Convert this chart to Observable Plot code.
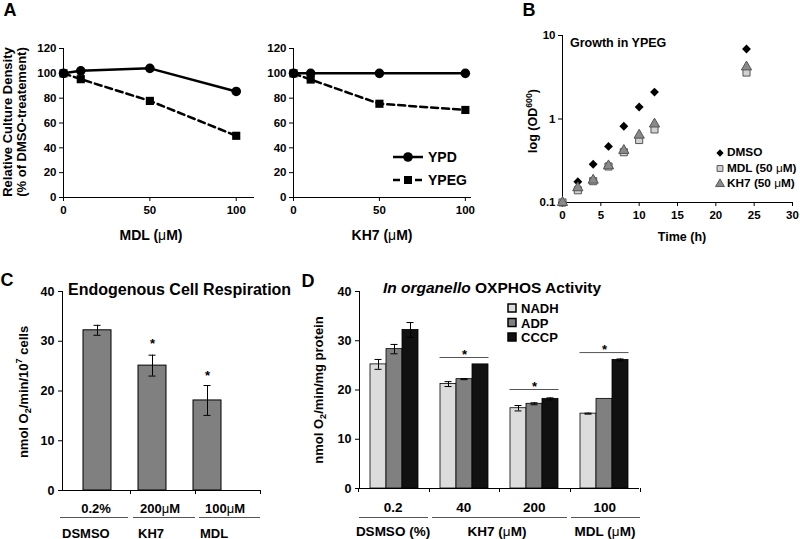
<!DOCTYPE html>
<html><head><meta charset="utf-8">
<script src="https://cdn.jsdelivr.net/npm/d3@7"></script>
<script src="https://cdn.jsdelivr.net/npm/@observablehq/plot@0.6"></script>
<style>
html,body{margin:0;padding:0;background:#fff;}
#fig{position:relative;width:800px;height:539px;overflow:hidden;font-family:"Liberation Sans",Arial,sans-serif;font-weight:bold;color:#000;background:#fff;}
#fig svg{position:absolute;left:0;top:0;background:transparent !important;overflow:visible;}
.t{position:absolute;white-space:nowrap;line-height:1;}
.mu{font-weight:normal;}
.u{position:absolute;height:1px;background:#555;}
.tk{position:absolute;width:1px;height:4px;background:#000;}
sub,sup{font-size:0.7em;line-height:0;}
</style></head><body><div id="fig"></div>
<script>
// ---------- DATA ----------
// Panel A
const doseA = [0, 10, 50, 100];
const ypdMDL = [100, 102, 104, 85.4];
const ypegMDL = [100, 95.3, 77.8, 49.7];
const ypdKH7 = [100, 100, 100, 100];
const ypegKH7 = [100, 95, 75.5, 70.5];
const xTicksA = [0, 50, 100];
const yTicksA = [0, 20, 40, 60, 80, 100, 120];
// Panel B
const timeB = [0, 2, 4, 6, 8, 10, 12, 24];
const dmsoB = [0.1, 0.177, 0.287, 0.47, 0.82, 1.39, 2.1, 6.9];
const mdlB = [0.1, 0.14, 0.18, 0.27, 0.40, 0.56, 0.75, 3.6];
const kh7B = [0.1, 0.15, 0.185, 0.275, 0.42, 0.64, 0.87, 4.2];
const xTicksB = [0, 5, 10, 15, 20, 25, 30];
const yTicksB = [0.1, 1, 10];
const legendB = ["DMSO", "MDL (50 <span class=mu>μ</span>M)", "KH7 (50 <span class=mu>μ</span>M)"];
// Panel C
const catC = ["0.2%", "200μM", "100μM"];
const groupC = ["DSMSO", "KH7", "MDL"];
const valC = [32.2, 25.1, 18.1];
const errC = [1, 2.1, 3];
const starC = [null, 30.2, 23.8];
const yTicksC = [0, 10, 20, 30, 40];
// Panel D
const groupsD = ["0.2", "40", "200", "100"];
const groupLabelsD = ["DSMSO (%)", "KH7 (<span class=mu>μ</span>M)", "MDL (<span class=mu>μ</span>M)"];
const seriesD = ["NADH", "ADP", "CCCP"];
const nadhD = [25.2, 21.2, 16.3, 15.2];
const adpD = [28.3, 22.2, 17.2, 18.2];
const cccpD = [32.2, 25.2, 18.2, 26.1];
const nadhErr = [1.0, 0.5, 0.55, 0.1];
const adpErr = [0.95, 0.1, 0.2, 0];
const cccpErr = [1.5, 0, 0.2, 0.2];
const sigD = [null, 26.6, 20.1, 27.6];
const yTicksD = [0, 10, 20, 30, 40];

// ---------- helpers ----------
const fig = document.getElementById("fig");
const FONT = '"Liberation Sans", Arial, sans-serif';
function txt(html, x, y, size, o = {}) {
  const d = document.createElement("div");
  d.className = "t";
  d.innerHTML = html;
  d.style.left = x + "px"; d.style.top = y + "px"; d.style.fontSize = size + "px";
  const ax = o.anchor === "start" ? "0" : "-50%";
  d.style.transform = `translate(${ax},-50%)` + (o.rotate ? " rotate(-90deg)" : "");
  fig.appendChild(d);
  return d;
}
function div(cls, x, y, w) {
  const d = document.createElement("div");
  d.className = cls; d.style.left = x + "px"; d.style.top = y + "px";
  if (w != null) d.style.width = w + "px";
  fig.appendChild(d);
}
function base(fs) {
  return {width: 800, height: 539,
    style: {background: "transparent", fontFamily: FONT, fontSize: fs + "px", fontWeight: "bold", color: "#000", overflow: "visible"}};
}
function add(p) { fig.appendChild(p); }

// ---------- Panel A ----------
const rowsA = (ys) => doseA.map((d, i) => ({x: d, y: ys[i]}));
function panelA(ypd, ypeg, left, right, xmax) {
  return Plot.plot({
    ...base(11.5), marginLeft: left, marginRight: 800 - right, marginTop: 48, marginBottom: 539 - 197,
    x: {domain: [0, xmax], ticks: xTicksA, tickSize: 4, tickPadding: 4, line: true, label: null},
    y: {domain: [0, 120], ticks: yTicksA, tickSize: 4, tickPadding: 3, line: true, label: null},
    marks: [
      Plot.line(rowsA(ypeg), {x: "x", y: "y", stroke: "#000", strokeWidth: 2.5, strokeDasharray: "7,4"}),
      Plot.line(rowsA(ypd), {x: "x", y: "y", stroke: "#000", strokeWidth: 2.5}),
      Plot.dot(rowsA(ypeg), {x: "x", y: "y", symbol: "square", r: 4.6, fill: "#000"}),
      Plot.dot(rowsA(ypd), {x: "x", y: "y", symbol: "circle", r: 4.8, fill: "#000"})
    ]
  });
}
add(panelA(ypdMDL, ypegMDL, 63, 253, 110));
add(panelA(ypdKH7, ypegKH7, 293, 470, 103));

// ---------- Panel B ----------
const rowsB = (ys) => timeB.map((t, i) => ({x: t, y: ys[i]}));
add(Plot.plot({
  ...base(11.5), marginLeft: 562, marginRight: 8, marginTop: 35, marginBottom: 539 - 202,
  x: {domain: [0, 30], ticks: xTicksB, tickSize: 4, tickPadding: 4, line: true, label: null},
  y: {type: "log", domain: [0.1, 10], ticks: yTicksB, tickFormat: d => String(d), tickSize: 4, tickPadding: 3, line: true, label: null},
  marks: [
    Plot.dot(rowsB(dmsoB), {x: "x", y: "y", symbol: "diamond2", r: 4, fill: "#000"}),
    Plot.dot(rowsB(mdlB), {x: "x", y: "y", symbol: "square", r: 4, fill: "#d2d2d2", stroke: "#555", strokeWidth: 1}),
    Plot.dot(rowsB(kh7B), {x: "x", y: "y", symbol: "triangle", r: 3.8, fill: "#8a8a8a", stroke: "#555", strokeWidth: 1})
  ]
}));

// ---------- Panel C ----------
const rowsC = catC.map((c, i) => ({cat: c, v: valC[i], e: errC[i], star: starC[i]}));
add(Plot.plot({
  ...base(12.5), marginLeft: 62, marginRight: 800 - 260, marginTop: 291, marginBottom: 539 - 490,
  x: {type: "band", domain: catC, range: [83, 221], paddingInner: 0.5, paddingOuter: 0, axis: null},
  y: {domain: [0, 40], ticks: yTicksC, tickSize: 4, tickPadding: 4, line: true, label: null},
  marks: [
    Plot.barY(rowsC, {x: "cat", y: "v", fill: "#808080", stroke: "#000", strokeWidth: 1}),
    Plot.ruleY([0], {stroke: "#000"}),
    Plot.ruleX(rowsC, {x: "cat", y1: d => d.v - d.e, y2: d => d.v + d.e, stroke: "#000"}),
    Plot.tickY(rowsC, {x: "cat", y: d => d.v + d.e, insetLeft: 10.5, insetRight: 10.5, stroke: "#000"}),
    Plot.tickY(rowsC, {x: "cat", y: d => d.v - d.e, insetLeft: 10.5, insetRight: 10.5, stroke: "#000"}),
    Plot.text(rowsC, {filter: d => d.star != null, x: "cat", y: "star", text: () => "*", fontSize: 13, dy: 4})
  ]
}));

// ---------- Panel D ----------
const arrsD = [nadhD, adpD, cccpD], errsD = [nadhErr, adpErr, cccpErr];
const rowsD = groupsD.flatMap((g, i) => seriesD.map((s, j) => ({group: g, series: s, v: arrsD[j][i], e: errsD[j][i], sig: sigD[i]})));
const dL = 358, dR = 640;
add(Plot.plot({
  ...base(12.5), marginLeft: dL, marginRight: 800 - dR, marginTop: 291, marginBottom: 539 - 488,
  facet: {data: rowsD, x: "group"},
  fx: {domain: groupsD, padding: 0, axis: null, label: null},
  x: {domain: seriesD, paddingInner: 0, paddingOuter: 0.66, axis: null},
  y: {domain: [0, 40], ticks: yTicksD, tickSize: 4, tickPadding: 4, line: true, label: null},
  color: {domain: seriesD, range: ["#dcdcdc", "#808080", "#111111"]},
  marks: [
    Plot.barY(rowsD, {x: "series", y: "v", fill: "series", stroke: "#000", strokeWidth: 0.8}),
    Plot.ruleY([0], {stroke: "#000"}),
    Plot.ruleX(rowsD, {filter: d => d.e > 0, x: "series", y1: d => d.v - d.e, y2: d => d.v + d.e, stroke: "#000"}),
    Plot.tickY(rowsD, {filter: d => d.e > 0, x: "series", y: d => d.v + d.e, insetLeft: 4.5, insetRight: 4.5, stroke: "#000"}),
    Plot.tickY(rowsD, {filter: d => d.e > 0, x: "series", y: d => d.v - d.e, insetLeft: 4.5, insetRight: 4.5, stroke: "#000"}),
    Plot.ruleY(rowsD, {filter: d => d.series === "ADP" && d.sig != null, y: "sig", insetLeft: 10.5, insetRight: 10.5, stroke: "#555"}),
    Plot.text(rowsD, {filter: d => d.series === "ADP" && d.sig != null, x: "series", y: "sig", text: () => "*", fontSize: 13, dy: -3})
  ]
}));

// ---------- Legends (decorative svg) ----------
const leg = d3.select(fig).append("svg").attr("width", 800).attr("height", 539);
// A legend
leg.append("line").attr("x1", 393).attr("x2", 423).attr("y1", 157).attr("y2", 157).attr("stroke", "#000").attr("stroke-width", 2.5);
leg.append("circle").attr("cx", 408).attr("cy", 157).attr("r", 4.8);
leg.append("line").attr("x1", 393).attr("x2", 425).attr("y1", 180).attr("y2", 180).attr("stroke", "#000").attr("stroke-width", 2.5).attr("stroke-dasharray", "7,4");
leg.append("rect").attr("x", 404).attr("y", 176).attr("width", 8).attr("height", 8);
// B legend
const symB = [[d3.symbolDiamond2, "#000", "none"], [d3.symbolSquare, "#d2d2d2", "#555"], [d3.symbolTriangle, "#8a8a8a", "#555"]];
symB.forEach(([s, f, st], i) => {
  leg.append("path").attr("d", d3.symbol(s, 34)()).attr("transform", `translate(720,${153 + i * 15.5})`)
    .attr("fill", f).attr("stroke", st);
  txt(legendB[i], 727, 153 + i * 15.5, 11.8, {anchor: "start"});
});
// D legend
const colD = ["#dcdcdc", "#808080", "#111111"];
seriesD.forEach((s, i) => {
  const y = 308 + i * 14.5;
  leg.append("rect").attr("x", 508).attr("y", y - 4).attr("width", 8).attr("height", 8).attr("fill", colD[i]).attr("stroke", "#000").attr("stroke-width", 1.5);
  txt(s, 521, y, 13, {anchor: "start"});
});
// A legend text
txt("YPD", 428, 157, 14, {anchor: "start"});
txt("YPEG", 428, 180, 14, {anchor: "start"});

// ---------- Text ----------
txt("A", 10, 10, 18); txt("B", 529, 10, 18); txt("C", 7, 280, 18); txt("D", 308, 281, 18);
txt("Relative Culture Density", 7, 122, 13, {rotate: true});
txt("(% of DMSO-treatement)", 21, 122, 13, {rotate: true});
txt("MDL (<span class=mu>μ</span>M)", 151, 235, 14);
txt("KH7 (<span class=mu>μ</span>M)", 382, 235, 14);
txt("Growth in YPEG", 570, 43, 12.5, {anchor: "start"});
txt("log (OD<sup>600</sup>)", 533, 121, 12.5, {rotate: true});
txt("Time (h)", 682, 237, 12.5);

txt("Endogenous Cell Respiration", 68, 290, 16, {anchor: "start"});
txt("nmol O<sub>2</sub>/min/10<sup>7</sup> cells", 23, 392, 13, {rotate: true});
const catCHtml = ["0.2%", "200<span class=mu>μ</span>M", "100<span class=mu>μ</span>M"];
[96, 160, 225].forEach((x, i) => txt(catCHtml[i], x, 508, 13));
[[60, 128], [133, 195], [199, 260]].forEach(([a, b]) => div("u", a, 517, b - a));
[62, 138, 200].forEach((x, i) => txt(groupC[i], x, 533, 13, {anchor: "start"}));
[130, 195, 260].forEach(x => div("tk", x, 490));

txt("<i>In organello</i> OXPHOS Activity", 492, 288, 15.5);
txt("nmol O<sub>2</sub>/min/mg protein", 318, 390, 13, {rotate: true});
const stepD = (dR - dL) / groupsD.length;
groupsD.forEach((g, i) => txt(g, dL + (i + 0.5) * stepD, 508, 13.5));
[0, 1, 2, 3, 4].forEach(i => div("tk", dL + i * stepD, 488));
[[359, 428], [432, 567], [571, 640]].forEach(([a, b]) => div("u", a, 517, b - a));
[393, 497, 605].forEach((x, i) => txt(groupLabelsD[i], x, 532, 13.5));
</script></body></html>
